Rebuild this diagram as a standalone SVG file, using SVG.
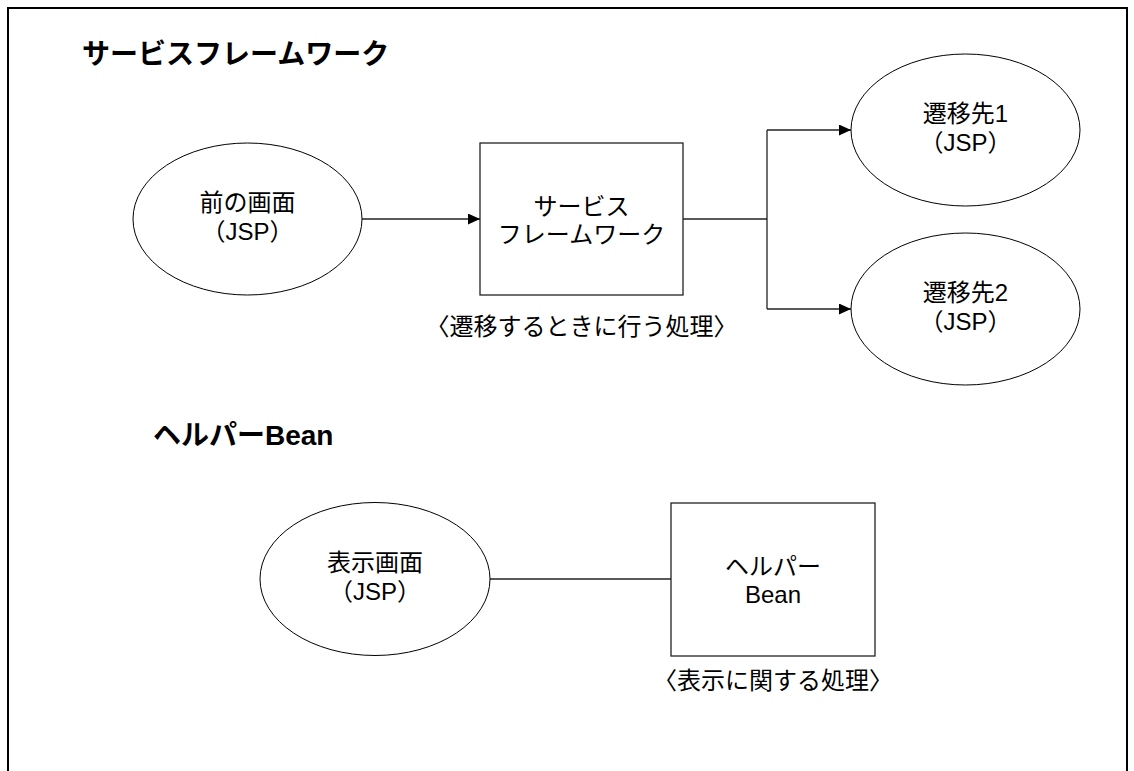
<svg xmlns="http://www.w3.org/2000/svg" width="1134" height="771" viewBox="0 0 1134 771">
<style>
  text { font-family: "Liberation Sans", "Noto Sans CJK JP", sans-serif; fill: #000; }
  .title { font-size: 28px; font-weight: bold; }
  .lbl { font-size: 24px; text-anchor: middle; }
  .shape { fill: #fff; stroke: #000; stroke-width: 1; }
  .box { fill: #fff; stroke: #222; stroke-width: 1.3; }
  .conn { fill: none; stroke: #222; stroke-width: 1.3; }
</style>
<defs>
  <marker id="arrow" viewBox="0 0 12 11" refX="12" refY="5.5" markerWidth="12" markerHeight="11" markerUnits="userSpaceOnUse" orient="auto">
    <path d="M0,0 L12,5.5 L0,11 Z" fill="#000"/>
  </marker>
</defs>
<rect x="0" y="0" width="1134" height="771" fill="#fff"/>
<rect x="8" y="8" width="1119" height="800" fill="none" stroke="#000" stroke-width="2"/>

<text class="title" x="82" y="64">サービスフレームワーク</text>
<text class="title" x="153" y="445">ヘルパーBean</text>

<g id="connectors">
  <line class="conn" x1="362" y1="219" x2="480" y2="219" marker-end="url(#arrow)"/>
  <polyline class="conn" points="683,219 767,219"/>
  <polyline class="conn" points="767,130 767,309"/>
  <line class="conn" x1="767" y1="130" x2="851" y2="130" marker-end="url(#arrow)"/>
  <line class="conn" x1="767" y1="309" x2="851" y2="309" marker-end="url(#arrow)"/>
  <line class="conn" x1="490" y1="579" x2="671" y2="579"/>
</g>

<g id="prev-screen">
  <ellipse class="shape" cx="247.5" cy="219" rx="114.5" ry="76"/>
  <text class="lbl" x="247.5" y="211">前の画面</text>
  <text class="lbl" x="247.5" y="240">（JSP）</text>
</g>

<g id="service-framework">
  <rect class="box" x="480" y="143" width="203" height="152"/>
  <text class="lbl" x="581.5" y="215">サービス</text>
  <text class="lbl" x="581.5" y="243">フレームワーク</text>
  <text class="lbl" x="581.5" y="335">〈遷移するときに行う処理〉</text>
</g>

<g id="dest1">
  <ellipse class="shape" cx="965.5" cy="130" rx="114.5" ry="76"/>
  <text class="lbl" x="965.5" y="122">遷移先1</text>
  <text class="lbl" x="965.5" y="151">（JSP）</text>
</g>

<g id="dest2">
  <ellipse class="shape" cx="965.5" cy="309" rx="114.5" ry="76"/>
  <text class="lbl" x="965.5" y="301">遷移先2</text>
  <text class="lbl" x="965.5" y="330">（JSP）</text>
</g>

<g id="display-screen">
  <ellipse class="shape" cx="375" cy="579" rx="115" ry="76.5"/>
  <text class="lbl" x="375" y="571">表示画面</text>
  <text class="lbl" x="375" y="600">（JSP）</text>
</g>

<g id="helper-bean">
  <rect class="box" x="671" y="503" width="204" height="153"/>
  <text class="lbl" x="773" y="575">ヘルパー</text>
  <text class="lbl" x="773" y="603">Bean</text>
  <text class="lbl" x="773" y="689">〈表示に関する処理〉</text>
</g>
</svg>
